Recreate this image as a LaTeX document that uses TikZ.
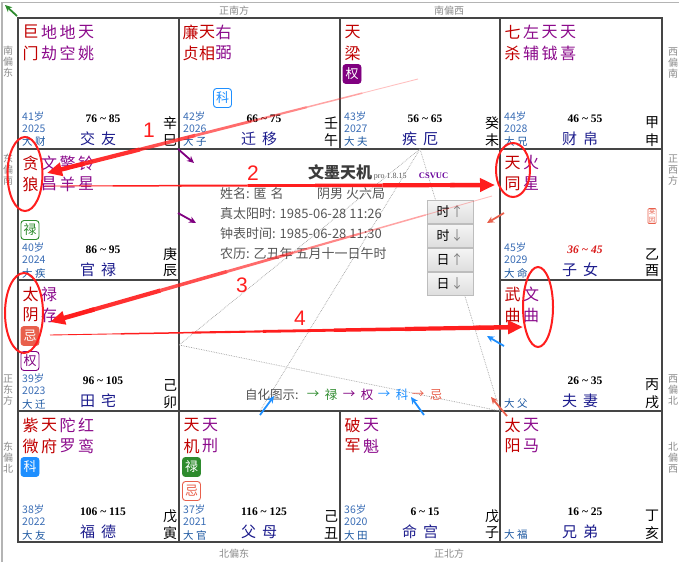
\documentclass[tikz,border=0pt]{standalone}
\usepackage{fontspec}
\setmainfont{Liberation Serif}
\newfontfamily\cjk{Noto Sans CJK SC}
\newfontfamily\numsans{Liberation Sans}
\usetikzlibrary{arrows.meta, calc, positioning, shapes.geometric}

\definecolor{pagegray}{HTML}{B4B4B4}
\definecolor{gridgray}{HTML}{454545}
\definecolor{dirgray}{HTML}{8A8A8A}
\definecolor{majred}{HTML}{C00000}
\definecolor{minpurple}{HTML}{8B0A8B}
\definecolor{ageblue}{HTML}{3A6DB5}
\definecolor{daxblue}{HTML}{1A56A0}
\definecolor{palnavy}{HTML}{1C1C8C}
\definecolor{lugreen}{HTML}{2E8B2E}
\definecolor{quanpurple}{HTML}{800080}
\definecolor{keblue}{HTML}{1E8FFF}
\definecolor{jisalmon}{HTML}{E8604C}
\definecolor{annored}{HTML}{FF1E1E}
\definecolor{infogray}{HTML}{555555}
\definecolor{titlegray}{HTML}{3C3C3C}
\definecolor{linegray}{HTML}{A0A0A0}
\definecolor{btnborder}{HTML}{BDBDBD}

\newcommand{\tld}{\char"007E\relax}
\newcommand{\gp}{\hspace{6pt}}

% tapered red marker arrow: start, end, opacity at start
\newcommand{\markarrow}[3]{%
  \foreach \ta/\tb/\w in {0/0.15/0.9, 0.15/0.3/1.5, 0.3/0.45/2.1, 0.45/0.6/2.8, 0.6/0.75/3.5, 0.75/0.91/4.2} {
    \pgfmathsetmacro{\segop}{#3+(1-#3)*\tb}
    \draw[annored, line width=\w pt, opacity=\segop] ($(#1)!\ta!(#2)$) -- ($(#1)!\tb!(#2)$);
  }
  \draw[annored, line width=4.5pt, -{Triangle[length=15pt, width=13pt]}] ($(#1)!0.9!(#2)$) -- (#2);
}

\tikzset{
  palace line/.style={draw=gridgray, line width=2pt},
  dirlabel/.style={text=dirgray, font=\cjk\fontsize{10}{11}\selectfont, align=center, inner sep=0pt},
  starname/.style={inner sep=0pt, font=\cjk\fontsize{16}{16}\selectfont},
  badge/.style={rounded corners=3pt, line width=0.9pt, minimum width=18pt, minimum height=19pt,
    inner sep=0pt, font=\cjk\fontsize{13}{13}\selectfont},
  agetext/.style={text=ageblue, anchor=west, inner sep=0pt, font=\cjk\fontsize{10.5}{11}\selectfont},
  daxtext/.style={text=daxblue, anchor=west, inner sep=0pt, font=\cjk\fontsize{10.5}{11}\selectfont},
  rangetext/.style={inner sep=0pt, font=\bfseries\fontsize{11.5}{12}\selectfont},
  palname/.style={text=palnavy, inner sep=0pt, font=\cjk\fontsize{15}{15}\selectfont},
  ganzhi/.style={inner sep=0pt, font=\cjk\fontsize{14}{14}\selectfont},
  infotext/.style={text=infogray, anchor=west, inner sep=0pt, font=\cjk\fontsize{13}{13}\selectfont},
  legtext/.style={text=infogray, inner sep=0pt, font=\cjk\fontsize{12.5}{13}\selectfont},
  btn/.style={draw=btnborder, top color=white!96!black, bottom color=white!87!black,
    minimum width=46pt, minimum height=23pt, inner sep=0pt, font=\cjk\fontsize{13}{13}\selectfont},
  trine/.style={draw=linegray, densely dotted, line width=0.7pt},
  sihua arrow/.style={-{Stealth[length=7pt, width=6.5pt]}, line width=1.8pt},
  annoring/.style={ellipse, draw=annored, line width=2pt, inner sep=0pt},
  annonum/.style={text=annored, inner sep=0pt, font=\numsans\fontsize{21}{21}\selectfont},
}

\begin{document}
\begin{tikzpicture}[x=1pt, y=-1pt]
  \useasboundingbox (0,0) rectangle (679,562);

  % ---- page edge ----
  \draw[pagegray, line width=1.5pt] (2,562) -- (2,2.5) -- (679,2.5);
  \coordinate (corner-a) at (17,16);
  \coordinate (corner-b) at (5,5);
  \draw[sihua arrow, draw=lugreen] (corner-a) -- (corner-b);

  % ---- direction labels ----
  \foreach \n/\px/\py/\t in {zhengnan/234/11/正南方, nanxi/449/11/南偏西, beidong/234/554/北偏东, zhengbei/449/554/正北方} {
    \node[dirlabel] (dir-\n) at (\px,\py) {\t};
  }
  \foreach \n/\px/\py/\a/\b/\c in {nandong/8/62/南/偏/东, dongnan/8/170/东/偏/南, zhengdong/8/390/正/东/方, dongbei/8/458/东/偏/北,
      xinan/673/63/西/偏/南, zhengxi/673/170/正/西/方, xibei/673/390/西/偏/北, beixi/673/458/北/偏/西} {
    \node[dirlabel] (dir-\n) at (\px,\py) {\a\\\b\\\c};
  }

  % ---- palace grid ----
  \draw[palace line] (18,18) rectangle (662,542);
  \draw[palace line] (179,18) -- (179,542);
  \draw[palace line] (500,18) -- (500,542);
  \draw[palace line] (18,149) -- (662,149);
  \draw[palace line] (18,411) -- (662,411);
  \draw[palace line] (340,18) -- (340,149);
  \draw[palace line] (340,411) -- (340,542);
  \draw[palace line] (18,280) -- (179,280);
  \draw[palace line] (500,280) -- (662,280);

  % ---- san fang si zheng lines ----
  \coordinate (wei-c) at (420,149);
  \coordinate (mao-c) at (179,345);
  \coordinate (chou-c) at (260,411);
  \coordinate (hai-c) at (500,411);
  \draw[trine] (wei-c) -- (mao-c) -- (hai-c) -- cycle;
  \draw[trine] (wei-c) -- (chou-c);

  % ---- stars: two characters stacked ----
  \foreach \n/\x/\y/\dx/\a/\b/\c in {
      jumen/18/18/12.5/巨/门/majred, dijie/18/18/31/地/劫/minpurple, dikong/18/18/49.5/地/空/minpurple, tianyao/18/18/68/天/姚/minpurple,
      lianzhen/179/18/11.5/廉/贞/majred, tianxiang/179/18/28/天/相/majred, youbi/179/18/44.5/右/弼/minpurple,
      tianliang/340/18/12.5/天/梁/majred,
      qisha/500/18/12.5/七/杀/majred, zuofu/500/18/31/左/辅/minpurple, tianyue/500/18/49.5/天/钺/minpurple, tianxi/500/18/68/天/喜/minpurple,
      tanlang/18/149/12.5/贪/狼/majred, wenchang/18/149/31/文/昌/minpurple, qingyang/18/149/49.5/擎/羊/minpurple, lingxing/18/149/68/铃/星/minpurple,
      tiantong/500/149/12.5/天/同/majred, huoxing/500/149/31/火/星/minpurple,
      taiyin/18/280/12.5/太/阴/majred, lucun/18/280/31/禄/存/minpurple,
      wuqu/500/280/12.5/武/曲/majred, wenqu/500/280/31/文/曲/minpurple,
      ziwei/18/411/12.5/紫/微/majred, tianfu/18/411/31/天/府/majred, tuoluo/18/411/49.5/陀/罗/minpurple, hongluan/18/411/68/红/鸾/minpurple,
      tianji/179/411/12.5/天/机/majred, tianxing/179/411/31/天/刑/minpurple,
      pojun/340/411/12.5/破/军/majred, tiankui/340/411/31/天/魁/minpurple,
      taiyang/500/411/12.5/太/阳/majred, tianma/500/411/31/天/马/minpurple} {
    \node[starname, text=\c] (\n-1) at (\x+\dx, \y+14) {\a};
    \node[starname, text=\c] (\n-2) at (\x+\dx, \y+35) {\b};
  }

  % ---- si hua badges ----
  \foreach \n/\bx/\by/\t/\c in {wei-quan/352/74/权/quanpurple, mao-ji/30/336/忌/jisalmon, yin-ke/30/467/科/keblue, chou-lu/191.5/467/禄/lugreen} {
    \node[badge, fill=\c, draw=\c, text=white] (bd-\n) at (\bx,\by) {\t};
  }
  \foreach \n/\bx/\by/\t/\c in {wu-ke/222.5/98/科/keblue, chen-lu/30/230/禄/lugreen, mao-quan/30/361/权/quanpurple, chou-ji/191.5/491/忌/jisalmon} {
    \node[badge, fill=white, draw=\c, text=\c] (bd-\n) at (\bx,\by) {\t};
  }
  \node[draw=jisalmon, text=jisalmon, rounded corners=1pt, line width=0.6pt, inner sep=0.8pt, align=center,
    font=\cjk\fontsize{6.5}{7.5}\selectfont] (laiyin) at (652,216) {来\\因};

  % ---- palace footers ----
  \foreach \n/\x/\y/\age/\yr/\dax/\rng/\pal/\gan/\zhi in {
      si/18/18/41岁/2025/大 财/76 \tld{} 85/交\gp 友/辛/巳,
      wu/179/18/42岁/2026/大 子/66 \tld{} 75/迁\gp 移/壬/午,
      wei/340/18/43岁/2027/大 夫/56 \tld{} 65/疾\gp 厄/癸/未,
      shen/500/18/44岁/2028/大 兄/46 \tld{} 55/财\gp 帛/甲/申,
      chen/18/149/40岁/2024/大 疾/86 \tld{} 95/官\gp 禄/庚/辰,
      you/500/149/45岁/2029/大 命/{}/子\gp 女/乙/酉,
      mao/18/280/39岁/2023/大 迁/96 \tld{} 105/田\gp 宅/己/卯,
      xu/500/280/{}/{}/大 父/26 \tld{} 35/夫\gp 妻/丙/戌,
      yin/18/411/38岁/2022/大 友/106 \tld{} 115/福\gp 德/戊/寅,
      chou/179/411/37岁/2021/大 官/116 \tld{} 125/父\gp 母/己/丑,
      zi/340/411/36岁/2020/大 田/6 \tld{} 15/命\gp 宫/戊/子,
      hai/500/411/{}/{}/大 福/16 \tld{} 25/兄\gp 弟/丁/亥} {
    \node[agetext] (age-\n) at (\x+4, \y+98) {\age};
    \node[agetext] (yr-\n) at (\x+4, \y+111) {\yr};
    \node[daxtext] (dax-\n) at (\x+4, \y+124) {\dax};
    \node[rangetext] (rng-\n) at (\x+85, \y+101) {\rng};
    \node[palname] (pal-\n) at (\x+80, \y+121) {\pal};
    \node[ganzhi] (gan-\n) at (\x+152, \y+105) {\gan};
    \node[ganzhi] (zhi-\n) at (\x+152, \y+122) {\zhi};
  }
  \node[rangetext, text=annored!85!black, font=\bfseries\itshape\fontsize{11.5}{12}\selectfont] (rng-you-red) at (585,250) {36 \tld{} 45};

  % ---- centre: title and birth data ----
  \node[inner sep=0pt, text=titlegray, font=\cjk\bfseries\fontsize{16}{16}\selectfont] (title) at (340,172) {文墨天机};
  \node[base right=1.5pt of title, inner sep=0pt, text=infogray, font=\fontsize{8}{8}\selectfont] (ver) {pro 1.8.15};
  \node[base right=12pt of ver, inner sep=0pt, text=quanpurple!80!blue, font=\bfseries\fontsize{8.5}{9}\selectfont] (brand) {CSVUC};
  \node[infotext] (name) at (220,194) {姓名: 匿\hspace{4pt}名};
  \node[infotext] (ju) at (317,194) {阴男 火六局};
  \node[infotext] (solar) at (220,214) {真太阳时: 1985-06-28 11:26};
  \node[infotext] (clock) at (220,234) {钟表时间: 1985-06-28 11:30};
  \node[infotext] (lunar) at (220,254) {农历: 乙丑年 五月十一日午时};

  % ---- hour / day buttons ----
  \foreach \i/\lab/\ar in {0/时/↑, 1/时/↓, 2/日/↑, 3/日/↓} {
    \node[btn] (btn-\i) at (450, 211.5+24*\i) {\lab\hspace{1pt}{\color{gray}\ar}};
  }

  % ---- self-transformation legend ----
  \node[legtext, anchor=west] (leg) at (245,395) {自化图示:};
  \foreach \n/\ax/\t/\c in {lu/313/禄/lugreen, quan/349/权/quanpurple, ke/384/科/keblue, ji/418/忌/jisalmon} {
    \node[legtext, text=\c] (leg-a-\n) at (\ax,395) {→};
    \node[legtext, text=\c] (leg-\n) at (\ax+18,395) {\t};
  }

  % ---- self-transformation arrows on the palace edges ----
  \foreach \n/\c/\ax/\ay/\bx/\by in {wu/quanpurple/178/149/194/163, chen/quanpurple/178/213/196/223,
      you/jisalmon/504/213/487/223, xu/keblue/504/346/487/336, hai/jisalmon/507/416/491/397,
      zi/keblue/424/415/411/397, chou/keblue/260/415/274/396} {
    \coordinate (sh-\n-a) at (\ax,\ay);
    \coordinate (sh-\n-b) at (\bx,\by);
    \draw[sihua arrow, draw=\c] (sh-\n-a) -- (sh-\n-b);
  }

  % ---- red markings ----
  \node[annoring, minimum width=35pt, minimum height=74pt] (ring-tanlang) at (25,174) {};
  \node[annoring, minimum width=38pt, minimum height=80pt] (ring-taiyin) at (24,313) {};
  \node[annoring, minimum width=34pt, minimum height=54pt] (ring-tiantong) at (513,170) {};
  \node[annoring, minimum width=30pt, minimum height=80pt] (ring-wenqu) at (538,307) {};

  \coordinate (m1-from) at (418,79);  \coordinate (m1-to) at (47,173);
  \coordinate (m2-from) at (45,186);  \coordinate (m2-to) at (495,185);
  \coordinate (m3-from) at (492,196); \coordinate (m3-to) at (50,322);
  \coordinate (m4-from) at (50,335);  \coordinate (m4-to) at (523,327);
  \markarrow{m1-from}{m1-to}{0.15}
  \markarrow{m2-from}{m2-to}{1}
  \markarrow{m3-from}{m3-to}{0.15}
  \markarrow{m4-from}{m4-to}{1}

  \node[annonum] (num-1) at (149,130) {1};
  \node[annonum] (num-2) at (253,173) {2};
  \node[annonum] (num-3) at (242,285) {3};
  \node[annonum] (num-4) at (300,318) {4};
\end{tikzpicture}
\end{document}
